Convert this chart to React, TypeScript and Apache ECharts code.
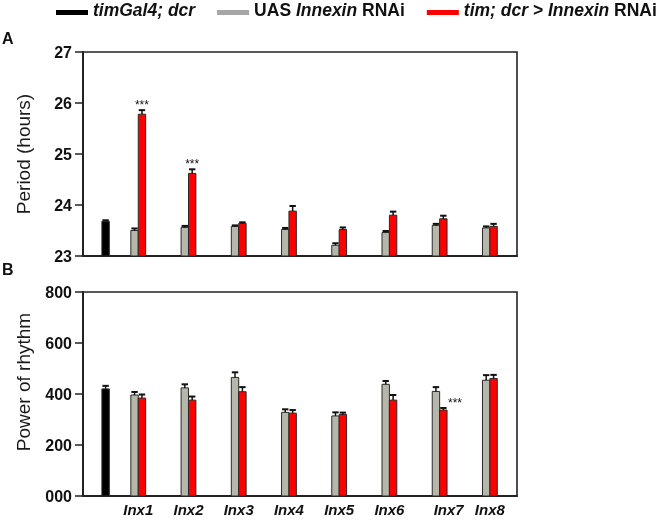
import React, { useEffect, useRef } from "react";
import * as echarts from "echarts";

const categories = ["Inx1", "Inx2", "Inx3", "Inx4", "Inx5", "Inx6", "Inx7", "Inx8"];
const seriesNames = ["timGal4; dcr", "UAS Innexin RNAi", "tim; dcr > Innexin RNAi"];

// Panel A: period (hours), mean and SEM
const controlPeriod = 23.68;
const controlPeriodErr = 0.02;
const uasPeriod = [23.5, 23.56, 23.58, 23.52, 23.21, 23.46, 23.6, 23.55];
const uasPeriodErr = [0.04, 0.03, 0.02, 0.03, 0.04, 0.03, 0.03, 0.03];
const rnaiPeriod = [25.78, 24.62, 23.64, 23.88, 23.52, 23.8, 23.73, 23.58];
const rnaiPeriodErr = [0.08, 0.08, 0.02, 0.1, 0.04, 0.07, 0.06, 0.05];
const periodSig = ["***", "***", "", "", "", "", "", ""];

// Panel B: power of rhythm, mean and SEM
const controlPower = 420;
const controlPowerErr = 12;
const uasPower = [396, 424, 465, 328, 314, 438, 410, 454];
const uasPowerErr = [12, 14, 20, 12, 14, 13, 17, 20];
const rnaiPower = [384, 376, 409, 325, 320, 376, 337, 461];
const rnaiPowerErr = [14, 14, 18, 12, 7, 20, 8, 14];
const powerSig = ["", "", "", "", "", "", "***", ""];

const periodTicks = { min: 23, max: 27, interval: 1 };
const powerTicks = { min: 0, max: 800, interval: 200 };

const FONT = "'Liberation Sans', Arial, sans-serif";
const GRAY = "#b6b6aa";
const RED = "#ff0000";
const BLACK = "#000000";
const BAR_W = 7.4;
const LEGEND_FS = 17.5;

function makeRender(yMin: number, offset: number, fill: string, sig: string[] | null, panel: string) {
  return (params: any, api: any) => {
    const x = api.value(0);
    const y = api.value(1);
    const e = api.value(2);
    const base = api.coord([x, yMin]);
    const top = api.coord([x, y]);
    const errTop = api.coord([x, y + e]);
    const cx = base[0] + offset;
    const children: any[] = [
      {
        type: "rect",
        shape: { x: cx - BAR_W / 2, y: top[1], width: BAR_W, height: base[1] - top[1] },
        style: { fill, stroke: "#2a2a2a", lineWidth: 1 },
      },
      {
        type: "line",
        shape: { x1: cx, y1: top[1], x2: cx, y2: errTop[1] },
        style: { stroke: "#111", lineWidth: 1.5 },
      },
      {
        type: "line",
        shape: { x1: cx - 3.2, y1: errTop[1], x2: cx + 3.2, y2: errTop[1] },
        style: { stroke: "#111", lineWidth: 2 },
      },
    ];
    if (sig && sig[params.dataIndex]) {
      const inA = panel === "A";
      children.push({
        type: "text",
        style: {
          text: sig[params.dataIndex],
          x: inA ? cx : cx + BAR_W / 2 + 1,
          y: errTop[1] + 1,
          align: inA ? "center" : "left",
          verticalAlign: "bottom",
          font: `12px ${FONT}`,
          fill: "#111",
        },
      });
    }
    return { type: "group", children };
  };
}

export default function App() {
  const ref = useRef<HTMLDivElement>(null);
  useEffect(() => {
    if (!ref.current) return;
    const chart = echarts.init(ref.current, null, { renderer: "svg" });

    const CONTROL_X = 0.35;
    const xAxisBase = (gridIndex: number) => ({
      type: "value",
      gridIndex,
      min: -0.1,
      max: 8.54,
      axisLine: { show: true, onZero: false, lineStyle: { color: "#222", width: 2 } },
      axisTick: { show: false },
      axisLabel: { show: false },
      splitLine: { show: false },
    });
    const yAxisBase = (gridIndex: number, t: any, name: string, fmt: any, namePad: number[]) => ({
      type: "value",
      gridIndex,
      min: t.min,
      max: t.max,
      interval: t.interval,
      name,
      nameLocation: "middle",
      nameGap: 50,
      nameTextStyle: { fontSize: 19, fontFamily: FONT, color: "#1a1a1a", padding: namePad },
      axisLine: { show: true, onZero: false, lineStyle: { color: "#222", width: 2 } },
      axisTick: { show: true, length: 8, lineStyle: { color: "#222", width: 1.5 } },
      axisLabel: { fontSize: 16, fontWeight: "bold", fontFamily: FONT, color: "#111", margin: 11, formatter: fmt },
      splitLine: { show: false },
    });

    const idx = categories.map((_, i) => i + 1);
    const mk = (vals: number[], errs: number[]) => vals.map((v, i) => [idx[i], v, errs[i]]);

    const option: any = {
      animation: false,
      textStyle: { fontFamily: FONT },
      legend: {
        left: 56,
        top: 1,
        width: 640,
        padding: 0,
        itemWidth: 32,
        itemHeight: 5,
        itemGap: 22,
        icon: "rect",
        selectedMode: false,
        data: [
          { name: seriesNames[0], itemStyle: { color: BLACK, borderWidth: 0 } },
          { name: seriesNames[1], itemStyle: { color: "#a6a6a6", borderWidth: 0 } },
          { name: seriesNames[2], itemStyle: { color: RED, borderWidth: 0 } },
        ],
        formatter: (n: string) => {
          if (n === seriesNames[0]) return "{i|timGal4; dcr}";
          if (n === seriesNames[1]) return "{n|UAS }{i|Innexin}{n| RNAi}";
          return "{i|tim; dcr > Innexin}{n| RNAi}";
        },
        textStyle: {
          fontSize: LEGEND_FS,
          fontWeight: "bold",
          fontFamily: FONT,
          color: "#111",
          padding: [0, 0, 5, 0],
          rich: {
            i: { fontStyle: "italic", fontWeight: "bold", fontSize: LEGEND_FS, fontFamily: FONT, color: "#111" },
            n: { fontWeight: "bold", fontSize: LEGEND_FS, fontFamily: FONT, color: "#111" },
          },
        },
      },
      grid: [
        { left: 83, right: 149, top: 52, height: 204, show: true, borderColor: "#222", borderWidth: 1.6, backgroundColor: "transparent" },
        { left: 83, right: 149, top: 292, height: 204, show: true, borderColor: "#222", borderWidth: 1.6, backgroundColor: "transparent" },
      ],
      xAxis: [xAxisBase(0), xAxisBase(1)],
      yAxis: [
        yAxisBase(0, periodTicks, "Period (hours)", (v: number) => String(v), [0, 0, 0, 0]),
        yAxisBase(1, powerTicks, "Power of rhythm", (v: number) => (v === 0 ? "000" : String(v)), [0, 0, 0, 24]),
      ],
      graphic: [
        { type: "text", left: 2, top: 30, style: { text: "A", font: `bold 16px ${FONT}`, fill: "#111" } },
        { type: "text", left: 2, top: 261, style: { text: "B", font: `bold 16px ${FONT}`, fill: "#111" } },
      ],
      series: [
        {
          name: seriesNames[0], type: "custom", xAxisIndex: 0, yAxisIndex: 0,
          itemStyle: { color: BLACK },
          data: [[CONTROL_X, controlPeriod, controlPeriodErr]],
          renderItem: makeRender(periodTicks.min, 0, BLACK, null, "A"),
        },
        {
          name: seriesNames[1], type: "custom", xAxisIndex: 0, yAxisIndex: 0,
          itemStyle: { color: GRAY },
          data: mk(uasPeriod, uasPeriodErr),
          renderItem: makeRender(periodTicks.min, -BAR_W / 2, GRAY, null, "A"),
        },
        {
          name: seriesNames[2], type: "custom", xAxisIndex: 0, yAxisIndex: 0,
          itemStyle: { color: RED },
          data: mk(rnaiPeriod, rnaiPeriodErr),
          renderItem: makeRender(periodTicks.min, BAR_W / 2, RED, periodSig, "A"),
        },
        {
          name: seriesNames[0], type: "custom", xAxisIndex: 1, yAxisIndex: 1,
          itemStyle: { color: BLACK },
          data: [[CONTROL_X, controlPower, controlPowerErr]],
          renderItem: makeRender(powerTicks.min, 0, BLACK, null, "B"),
        },
        {
          name: seriesNames[1], type: "custom", xAxisIndex: 1, yAxisIndex: 1,
          itemStyle: { color: GRAY },
          data: mk(uasPower, uasPowerErr),
          renderItem: makeRender(powerTicks.min, -BAR_W / 2, GRAY, null, "B"),
        },
        {
          name: seriesNames[2], type: "custom", xAxisIndex: 1, yAxisIndex: 1,
          itemStyle: { color: RED },
          data: mk(rnaiPower, rnaiPowerErr),
          renderItem: makeRender(powerTicks.min, BAR_W / 2, RED, powerSig, "B"),
        },
        {
          name: "labels", type: "custom", xAxisIndex: 1, yAxisIndex: 1,
          silent: true,
          data: idx.map((x) => [x, 0]),
          renderItem: (params: any, api: any) => {
            const p = api.coord([api.value(0), powerTicks.min]);
            const cat = categories[params.dataIndex];
            const shift = cat === "Inx7" ? 9 : 0;
            return {
              type: "text",
              style: {
                text: cat,
                x: p[0] + shift,
                y: p[1] + 13,
                align: "center",
                verticalAlign: "middle",
                font: `italic bold 15px ${FONT}`,
                fill: "#111",
              },
            };
          },
        },
      ],
    };
    chart.setOption(option);
    return () => chart.dispose();
  }, []);
  return <div ref={ref} style={{ position: "fixed", left: 0, top: 0, width: 666, height: 520 }} />;
}
